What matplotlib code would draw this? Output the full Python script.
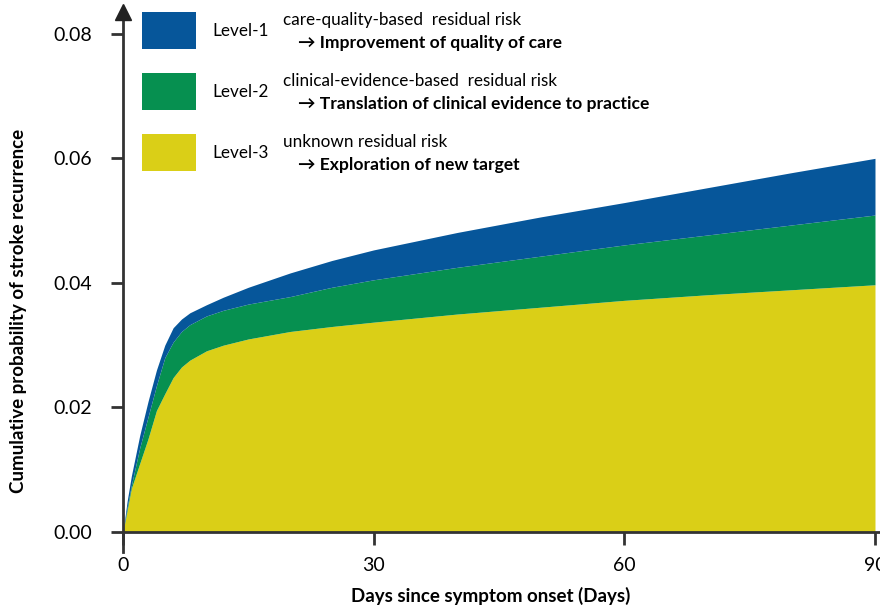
import numpy as np
import matplotlib
matplotlib.use("Agg")
import matplotlib.pyplot as plt
from matplotlib.patches import Rectangle

plt.rcParams['font.family'] = ['Lato', 'DejaVu Sans']

# cumulative probability (top edge of each band)
days = [0, 0.5, 1, 2, 3, 4, 5, 6, 7, 8, 10, 12, 15, 20, 25, 30, 40, 50, 60, 70, 80, 90]
level1_top = [0, 0.005, 0.009, 0.0155, 0.021, 0.026, 0.030, 0.0328, 0.0342, 0.0352, 0.0365, 0.0377,
              0.0393, 0.0416, 0.0436, 0.0453, 0.0481, 0.0506, 0.0529, 0.0553, 0.0577, 0.0600]
level2_top = [0, 0.004, 0.0075, 0.0135, 0.0185, 0.0235, 0.028, 0.0305, 0.0322, 0.0333, 0.0347, 0.0356,
              0.0366, 0.0378, 0.0393, 0.0405, 0.0425, 0.0443, 0.0461, 0.0477, 0.0493, 0.0509]
level3_top = [0, 0.0035, 0.007, 0.011, 0.015, 0.0195, 0.0222, 0.0248, 0.0265, 0.0276, 0.0291, 0.0300,
              0.0310, 0.0322, 0.0330, 0.0337, 0.0350, 0.0361, 0.0372, 0.0381, 0.0389, 0.0397]

levels = ['Level-1', 'Level-2', 'Level-3']
descr = ['care-quality-based  residual risk', 'clinical-evidence-based  residual risk', 'unknown residual risk']
actions = ['Improvement of quality of care', 'Translation of clinical evidence to practice',
           'Exploration of new target']
colors = ['#06569a', '#069050', '#dacf17']

xticks = [0, 30, 60, 90]
yticks = [0.00, 0.02, 0.04, 0.06, 0.08]

W, H = 880, 611
fig = plt.figure(figsize=(W / 100, H / 100), dpi=100)


def fx(px):
    return px / W


def fy(py):
    return 1 - py / H


ax = fig.add_axes([fx(123), fy(532), fx(880) - fx(123), fy(12) - fy(532)])

ax.fill_between(days, 0, level3_top, color=colors[2], lw=0)
ax.fill_between(days, level3_top, level2_top, color=colors[1], lw=0)
ax.fill_between(days, level2_top, level1_top, color=colors[0], lw=0)

ax.set_xlim(0, 90.6)
ax.set_ylim(0, 0.0835)
ax.set_xticks(xticks)
ax.set_yticks(yticks)
ax.set_yticklabels(['%.2f' % v for v in yticks])
ax.tick_params(axis='both', colors='#333333', width=2, length=9, labelsize=14,
               labelcolor='black')
ax.tick_params(axis='y', pad=13)
ax.tick_params(axis='x', pad=9)

for s in ['top', 'right']:
    ax.spines[s].set_visible(False)
for s in ['left', 'bottom']:
    ax.spines[s].set_color('#333333')
    ax.spines[s].set_linewidth(2)

# arrow head on y axis, and the y axis running a bit below zero
ax.plot([0], [0.0835], marker='^', markersize=11, color='#222222', clip_on=False, zorder=5)
ax.plot([0, 0], [0, -0.0032], color='#333333', lw=2, clip_on=False, zorder=5)

ax.set_xlabel('Days since symptom onset (Days)', fontsize=13.5, fontweight='bold')
ax.set_ylabel('Cumulative probability of stroke recurrence', fontsize=13.5, fontweight='bold')
ax.xaxis.set_label_coords(0.486, -0.106)
ax.yaxis.set_label_coords(-0.127, 0.425)

# legend drawn in pixel positions
box_tops = [12, 73, 134]
for i in range(3):
    t = box_tops[i]
    fig.add_artist(Rectangle((fx(142), fy(t + 37)), fx(196) - fx(142), fy(t) - fy(t + 37),
                             transform=fig.transFigure, color=colors[i], lw=0))
    fig.text(fx(212), fy(t + 19), levels[i], fontsize=12.3, va='center', ha='left')
    fig.text(fx(283), fy(t + 8), descr[i], fontsize=12.3, va='center', ha='left')
    fig.text(fx(298), fy(t + 31), '\u2192 ' + actions[i], fontsize=12.6, va='center', ha='left',
             fontweight='bold', family=['Lato', 'DejaVu Sans'])

fig.savefig('out.png', dpi=100)
